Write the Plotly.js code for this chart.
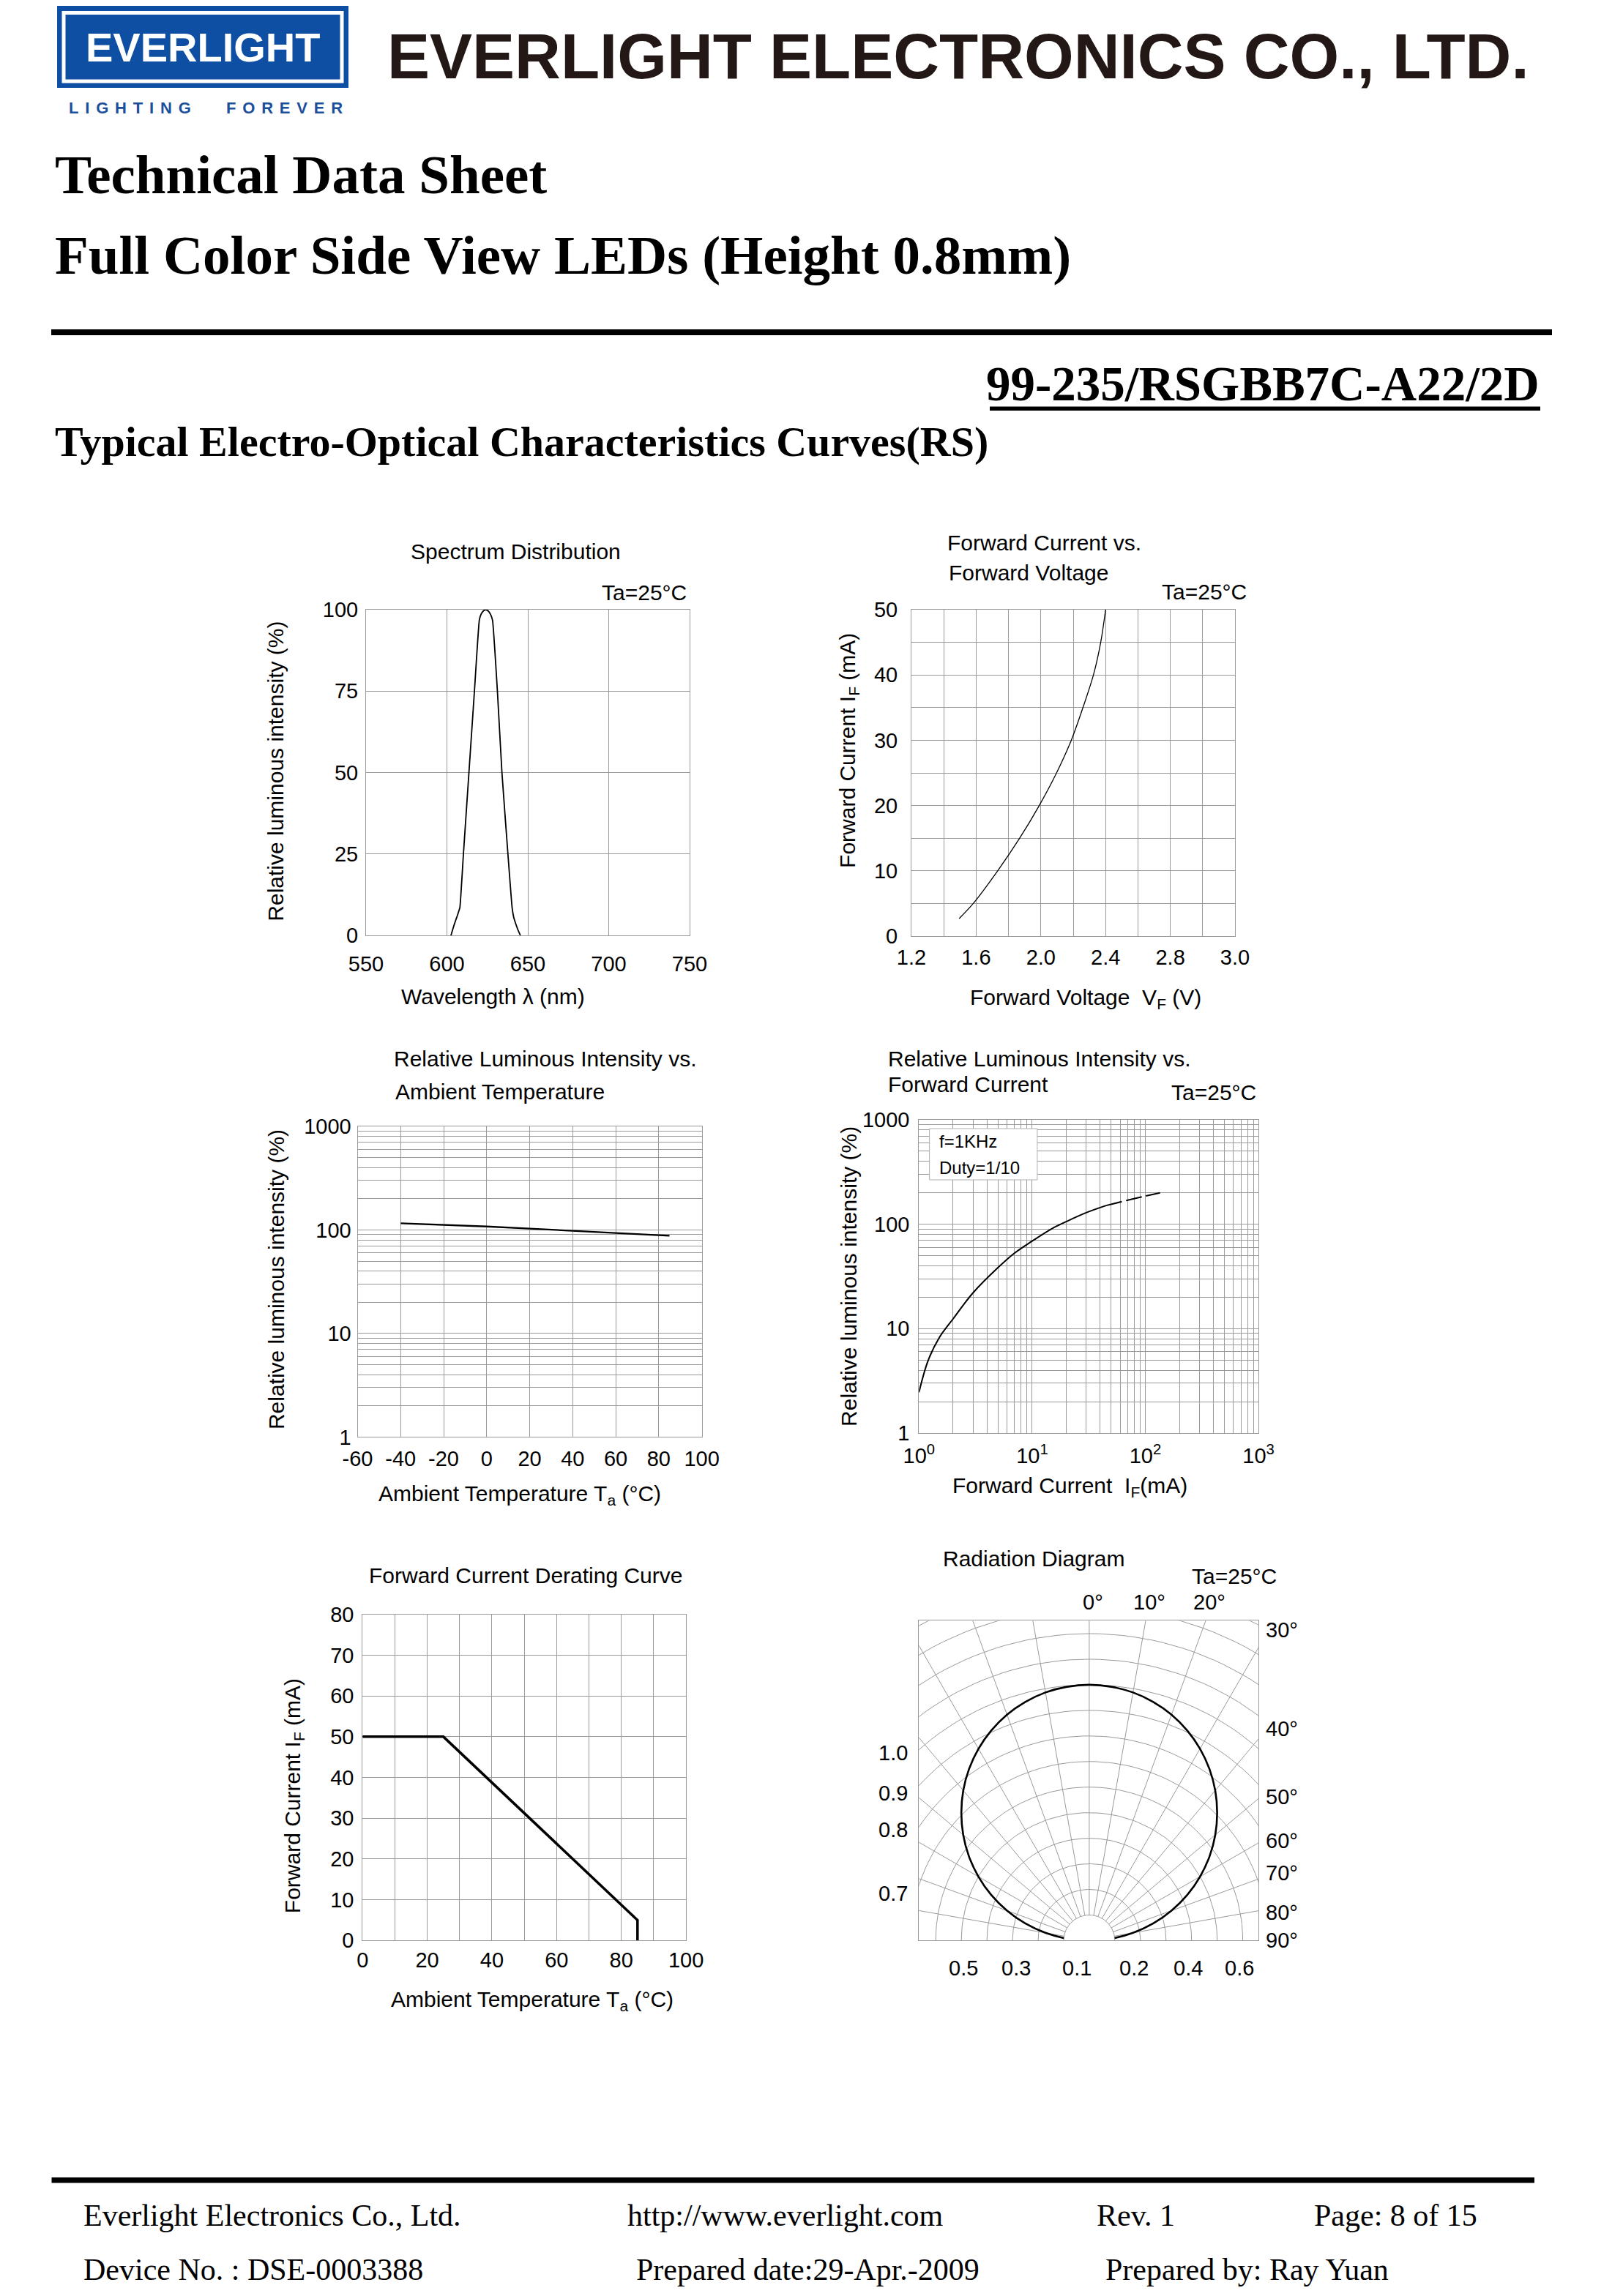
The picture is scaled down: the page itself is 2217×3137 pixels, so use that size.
<!DOCTYPE html>
<html><head><meta charset="utf-8">
<script src="https://cdn.plot.ly/plotly-3.0.1.min.js"></script>
<style>html,body{margin:0;padding:0;background:#fff}</style>
</head><body><div id="page" style="width:2217px;height:3137px"></div>
<script>
// ---------------- DATA ----------------
const spectrumWavelength = [602.5, 603.4, 604.3, 605.4, 606.4, 607.3, 608, 610.2, 613.6, 617, 620, 621, 622.5, 624, 625.5, 627, 628.2, 631.2, 634, 637.7, 640.3, 641.3, 642.1, 642.7, 643.8, 645.4];
const spectrumIntensity  = [0, 1.5, 3, 4.6, 6, 7.4, 8.5, 25, 50, 75, 96.7, 98.5, 99.6, 100, 99.6, 98.5, 96.7, 75, 50, 25, 8.5, 5.5, 4.2, 3.3, 1.8, 0];

const vfVoltage = [1.495, 1.582, 1.733, 1.869, 1.99, 2.097, 2.188, 2.26, 2.325, 2.37, 2.40];
const vfCurrent = [2.7, 5, 10, 15, 20, 25, 30, 35, 40, 45, 50];
const vfTickVals = [1.2, 1.6, 2.0, 2.4, 2.8, 3.2];
const vfTickText = ['1.2', '1.6', '2.0', '2.4', '2.8', '3.0'];

const tempAmbient   = [-40, -20, 0, 20, 40, 60, 85];
const tempIntensity = [116, 112, 108, 103, 98, 94, 88];
const tempTickVals  = [-60, -40, -20, 0, 20, 40, 60, 80, 100];
const tempTickText  = ['-60', '-40', '-20', '0', '20', '40', '60', '80', '100'];

const ifCurrent      = [1, 1.2, 1.5, 2, 3, 5, 7, 10, 15, 20, 30, 45];
const ifIntensity    = [2.46, 4.9, 8.1, 12.4, 22, 38.5, 53, 69, 91, 106, 129, 151];
const ifCurrentExt   = [45, 70, 100, 135];
const ifIntensityExt = [151, 170, 186, 200];
const logTickVals = [1, 10, 100, 1000];
const logTickText = ['1', '10', '100', '1000'];
const ifTickText  = ['10<sup>0</sup>', '10<sup>1</sup>', '10<sup>2</sup>', '10<sup>3</sup>'];

const deratingTemp    = [0, 25, 85, 85];
const deratingCurrent = [50, 50, 5, 0];

const radAngle     = [0, 5, 10, 15, 20, 25, 30, 35, 40, 45, 50, 55, 60, 65, 70, 75, 80, 84.3];
const radIntensity = [1.00, 0.996, 0.985, 0.966, 0.94, 0.906, 0.866, 0.819, 0.766, 0.707, 0.643, 0.574, 0.50, 0.423, 0.342, 0.259, 0.174, 0.10];
const radTopLabels    = ['0°', '10°', '20°'];
const radRightLabels  = ['30°', '40°', '50°', '60°', '70°', '80°', '90°'];
const radLeftLabels   = ['1.0', '0.9', '0.8', '0.7'];
const radBottomLabels = ['0.5', '0.3', '0.1', '0.2', '0.4', '0.6'];

// ---------------- LAYOUT HELPERS ----------------
const W = 2217, H = 3137;
const X = v => v / W, Y = v => 1 - v / H;
const SANS = 'Liberation Sans, Arial, sans-serif';
const SERIF = 'Liberation Serif, Times New Roman, serif';
const G = '#9a9a9a';

function T(text, x, y, o) {
  return Object.assign({xref: 'paper', yref: 'paper', x: X(x), y: Y(y), text: text, showarrow: false,
    xanchor: 'left', yanchor: 'middle', borderpad: 0,
    font: {family: SANS, size: 30, color: '#000'}}, o || {});
}
function F(size, family, color) { return {family: family || SANS, size: size, color: color || '#000'}; }

function axis(p, isX, extra) {
  const base = {showgrid: true, gridcolor: G, gridwidth: 1, showline: true, linecolor: G, linewidth: 1,
    mirror: true, zeroline: false, ticks: '', tickfont: F(29), fixedrange: true,
    domain: isX ? [X(p.l), X(p.r)] : [Y(p.b), Y(p.t)]};
  return Object.assign(base, extra);
}
function minorLog() {
  const v = [];
  [1, 10, 100].forEach(d => { for (let k = 2; k <= 9; k++) v.push(k * d); });
  return v;
}

const P1 = {l: 500, r: 942, t: 833, b: 1278};
const P2 = {l: 1245, r: 1687, t: 833, b: 1279};
const P3 = {l: 488.5, r: 958.6, t: 1539, b: 1963.4};
const P4 = {l: 1255.3, r: 1719.1, t: 1530, b: 1958};
const P5 = {l: 495.2, r: 937.1, t: 2205.8, b: 2651.3};
const P6 = {l: 1255.3, r: 1718.8, t: 2214.4, b: 2651.4};
const radUnit = (P6.r - P6.l) / 1.3262;
const radCx = 1487.9;

// ---------------- TRACES ----------------
const traces = [];
traces.push({x: spectrumWavelength, y: spectrumIntensity, xaxis: 'x', yaxis: 'y', mode: 'lines',
  line: {color: '#000', width: 1.8, shape: 'spline', smoothing: 0.4}, hoverinfo: 'skip', showlegend: false});
traces.push({x: vfVoltage, y: vfCurrent, xaxis: 'x2', yaxis: 'y2', mode: 'lines',
  line: {color: '#000', width: 1.3, shape: 'spline'}, hoverinfo: 'skip', showlegend: false});
traces.push({x: tempAmbient, y: tempIntensity, xaxis: 'x3', yaxis: 'y3', mode: 'lines',
  line: {color: '#000', width: 2.3}, hoverinfo: 'skip', showlegend: false});
traces.push({x: ifCurrent, y: ifIntensity, xaxis: 'x4', yaxis: 'y4', mode: 'lines',
  line: {color: '#000', width: 2, shape: 'spline'}, hoverinfo: 'skip', showlegend: false});
traces.push({x: ifCurrentExt, y: ifIntensityExt, xaxis: 'x4', yaxis: 'y4', mode: 'lines',
  line: {color: '#000', width: 2, dash: '22px,6px', shape: 'spline'}, hoverinfo: 'skip', showlegend: false});
traces.push({x: deratingTemp, y: deratingCurrent, xaxis: 'x5', yaxis: 'y5', mode: 'lines',
  line: {color: '#000', width: 3.5}, hoverinfo: 'skip', showlegend: false});

// radiation grid (polar grid drawn in cartesian coordinates)
const gx = [], gy = [];
for (let k = 1; k <= 14; k++) {
  const r = k * 0.1;
  for (let a = -90; a <= 90; a += 2) { const t = a * Math.PI / 180; gx.push(r * Math.sin(t)); gy.push(r * Math.cos(t)); }
  gx.push(null); gy.push(null);
}
for (let a = -80; a <= 80; a += 10) {
  const t = a * Math.PI / 180;
  gx.push(0.1 * Math.sin(t), 2 * Math.sin(t), null);
  gy.push(0.1 * Math.cos(t), 2 * Math.cos(t), null);
}
traces.push({x: gx, y: gy, xaxis: 'x6', yaxis: 'y6', mode: 'lines', line: {color: G, width: 1},
  hoverinfo: 'skip', showlegend: false, connectgaps: false});
// radiation curve, mirrored for both sides
const rx = [], ry = [];
for (let i = radAngle.length - 1; i >= 0; i--) { const t = -radAngle[i] * Math.PI / 180; rx.push(radIntensity[i] * Math.sin(t)); ry.push(radIntensity[i] * Math.cos(t)); }
for (let i = 1; i < radAngle.length; i++) { const t = radAngle[i] * Math.PI / 180; rx.push(radIntensity[i] * Math.sin(t)); ry.push(radIntensity[i] * Math.cos(t)); }
traces.push({x: rx, y: ry, xaxis: 'x6', yaxis: 'y6', mode: 'lines', line: {color: '#000', width: 2.6, shape: 'spline', smoothing: 1.3},
  hoverinfo: 'skip', showlegend: false});

// ---------------- ANNOTATIONS ----------------
const ann = [];
const SP = '\u2009\u2009';
const spaced = s => s.split('').join(SP);
// header
ann.push(T('<b>EVERLIGHT</b>', 276.5, 64, {xanchor: 'center', font: F(56, SANS, '#ffffff')}));
ann.push(T('<b>' + spaced('LIGHTING') + '</b>', 93, 148, {font: F(22, SANS, '#1b4f9c')}));
ann.push(T('<b>' + spaced('FOREVER') + '</b>', 308, 148, {font: F(22, SANS, '#1b4f9c')}));
ann.push(T('<b>EVERLIGHT ELECTRONICS CO., LTD.</b>', 528, 77, {font: F(87, SANS, '#231815')}));
ann.push(T('<b>Technical Data Sheet</b>', 74, 238.5, {font: F(75, SERIF)}));
ann.push(T('<b>Full Color Side View LEDs (Height 0.8mm)</b>', 74, 348, {font: F(75, SERIF)}));
ann.push(T('<b>99-235/RSGBB7C-A22/2D</b>', 2104, 523.5, {xanchor: 'right', font: F(67, SERIF)}));
ann.push(T('<b>Typical Electro-Optical Characteristics Curves(RS)</b>', 74, 603.5, {font: F(58, SERIF)}));
// chart 1
ann.push(T('Spectrum Distribution', 704, 753.6, {xanchor: 'center'}));
ann.push(T('Ta=25°C', 939.4, 809.4, {xanchor: 'right'}));
ann.push(T('Wavelength λ (nm)', 673.75, 1361.6, {xanchor: 'center'}));
ann.push(T('Relative luminous intensity (%)', 376.9, 1053.8, {xanchor: 'center', textangle: -90}));
// chart 2
ann.push(T('Forward Current vs.', 1292.8, 741.5));
ann.push(T('Forward Voltage', 1295.4, 782.6));
ann.push(T('Ta=25°C', 1703.9, 808.5, {xanchor: 'right'}));
ann.push(T('Forward Voltage  V<sub>F</sub> (V)', 1482.5, 1365, {xanchor: 'center'}));
ann.push(T('Forward Current I<sub>F</sub> (mA)', 1160, 1025.9, {xanchor: 'center', textangle: -90}));
// chart 3
ann.push(T('Relative Luminous Intensity vs.', 536.7, 1446.9));
ann.push(T('Ambient Temperature', 538.9, 1491.5));
ann.push(T('Ambient Temperature T<sub>a</sub> (°C)', 709.5, 2042.9, {xanchor: 'center'}));
ann.push(T('Relative luminous intensity (%)', 376.9, 1748.2, {xanchor: 'center', textangle: -90}));
// chart 4
ann.push(T('Relative Luminous Intensity vs.', 1211.5, 1446.9));
ann.push(T('Forward Current', 1211.5, 1481.7));
ann.push(T('Ta=25°C', 1717.3, 1492.9, {xanchor: 'right'}));
ann.push(T('f=1KHz', 1282, 1559.4, {font: F(24)}));
ann.push(T('Duty=1/10', 1282, 1595, {font: F(24)}));
ann.push(T('Forward Current  I<sub>F</sub>(mA)', 1461.5, 2031.7, {xanchor: 'center'}));
ann.push(T('Relative luminous intensity (%)', 1160.2, 1743.75, {xanchor: 'center', textangle: -90}));
// chart 5
ann.push(T('Forward Current Derating Curve', 718.4, 2152.7, {xanchor: 'center'}));
ann.push(T('Ambient Temperature T<sub>a</sub> (°C)', 727.3, 2733, {xanchor: 'center'}));
ann.push(T('Forward Current I<sub>F</sub> (mA)', 401.4, 2453.8, {xanchor: 'center', textangle: -90}));
// chart 6
ann.push(T('Radiation Diagram', 1286.8, 2129.9));
ann.push(T('Ta=25°C', 1745, 2153, {xanchor: 'right'}));
[1493.3, 1569.6, 1651.7].forEach((x, i) => ann.push(T(radTopLabels[i], x, 2189.1, {xanchor: 'center', font: F(29)})));
[2226.5, 2362, 2454.5, 2514.6, 2559.4, 2613.3, 2651.4].forEach((y, i) => ann.push(T(radRightLabels[i], 1728.4, y, {font: F(29)})));
[2395.2, 2450.3, 2500, 2587.2].forEach((y, i) => ann.push(T(radLeftLabels[i], 1241.2, y, {xanchor: 'right', font: F(29)})));
[1315.8, 1387.6, 1471.3, 1548.8, 1622.6, 1693.1].forEach((x, i) => ann.push(T(radBottomLabels[i], x, 2688.7, {xanchor: 'center', font: F(29)})));
// footer
ann.push(T('Everlight Electronics Co., Ltd.', 113, 3027, {font: F(42, SERIF)}));
ann.push(T('http://www.everlight.com', 856, 3027, {font: F(42, SERIF)}));
ann.push(T('Rev. 1', 1497, 3027, {font: F(42, SERIF)}));
ann.push(T('Page: 8 of 15', 1794, 3027, {font: F(42, SERIF)}));
ann.push(T('Device No. : DSE-0003388', 113, 3100.6, {font: F(42, SERIF)}));
ann.push(T('Prepared date:29-Apr.-2009', 868, 3100.6, {font: F(42, SERIF)}));
ann.push(T('Prepared by: Ray Yuan', 1509, 3100.6, {font: F(42, SERIF)}));

// ---------------- SHAPES ----------------
function R(x0, y0, x1, y1, o) {
  return Object.assign({type: 'rect', xref: 'paper', yref: 'paper', x0: X(x0), x1: X(x1), y0: Y(y1), y1: Y(y0),
    fillcolor: '#000', line: {width: 0}, layer: 'above'}, o || {});
}
const shapes = [
  R(78, 8, 476, 120, {fillcolor: '#0f4fa3'}),
  R(87, 17.5, 467, 111, {fillcolor: 'rgba(0,0,0,0)', line: {color: '#ffffff', width: 5}}),
  R(70, 450, 2120, 458),
  R(1352, 555.5, 2104, 561),
  R(70.5, 2975, 2096, 2982.5),
  R(1269.6, 1542, 1416.9, 1612, {fillcolor: '#ffffff', line: {color: '#b0b0b0', width: 1}})
];

// ---------------- LAYOUT ----------------
const layout = {
  width: W, height: H, margin: {l: 0, r: 0, t: 0, b: 0}, paper_bgcolor: '#fff', plot_bgcolor: '#fff',
  showlegend: false, font: {family: SANS, color: '#000'},
  xaxis: axis(P1, true, {anchor: 'y', range: [550, 750], tick0: 550, dtick: 50, ticklabelstandoff: 13}),
  yaxis: axis(P1, false, {anchor: 'x', range: [0, 100], tick0: 0, dtick: 25, ticklabelstandoff: 4}),
  xaxis2: axis(P2, true, {anchor: 'y2', range: [1.2, 3.2], tickmode: 'array', tickvals: vfTickVals, ticktext: vfTickText,
    minor: {dtick: 0.2, tick0: 1.2, showgrid: true, gridcolor: G, gridwidth: 1, ticks: ''}, ticklabelstandoff: 3}),
  yaxis2: axis(P2, false, {anchor: 'x2', range: [0, 50], tick0: 0, dtick: 10,
    minor: {dtick: 5, tick0: 0, showgrid: true, gridcolor: G, gridwidth: 1, ticks: ''}, ticklabelstandoff: 12}),
  xaxis3: axis(P3, true, {anchor: 'y3', range: [-60, 100], tickmode: 'array', tickvals: tempTickVals, ticktext: tempTickText, ticklabelstandoff: 4}),
  yaxis3: axis(P3, false, {anchor: 'x3', type: 'log', range: [0, 3], tickmode: 'array', tickvals: logTickVals, ticktext: logTickText,
    minor: {tickmode: 'array', tickvals: minorLog(), showgrid: true, gridcolor: G, gridwidth: 1, ticks: ''}, ticklabelstandoff: 2}),
  xaxis4: axis(P4, true, {anchor: 'y4', type: 'log', range: [0, 3], tickmode: 'array', tickvals: logTickVals, ticktext: ifTickText,
    minor: {tickmode: 'array', tickvals: minorLog(), showgrid: true, gridcolor: G, gridwidth: 1, ticks: ''}, ticklabelstandoff: 5}),
  yaxis4: axis(P4, false, {anchor: 'x4', type: 'log', range: [0, 3], tickmode: 'array', tickvals: logTickVals, ticktext: logTickText,
    minor: {tickmode: 'array', tickvals: minorLog(), showgrid: true, gridcolor: G, gridwidth: 1, ticks: ''}, ticklabelstandoff: 6}),
  xaxis5: axis(P5, true, {anchor: 'y5', range: [0, 100], tick0: 0, dtick: 20,
    minor: {dtick: 10, tick0: 0, showgrid: true, gridcolor: G, gridwidth: 1, ticks: ''}, ticklabelstandoff: 1}),
  yaxis5: axis(P5, false, {anchor: 'x5', range: [0, 80], tick0: 0, dtick: 10, ticklabelstandoff: 5}),
  xaxis6: axis(P6, true, {anchor: 'y6', range: [(P6.l - radCx) / radUnit, (P6.r - radCx) / radUnit], showgrid: false, showticklabels: false}),
  yaxis6: axis(P6, false, {anchor: 'x6', range: [0, (P6.b - P6.t) / radUnit], showgrid: false, showticklabels: false}),
  annotations: ann,
  shapes: shapes
};

Plotly.newPlot('page', traces, layout, {staticPlot: true, displayModeBar: false});
</script>
</body></html>
